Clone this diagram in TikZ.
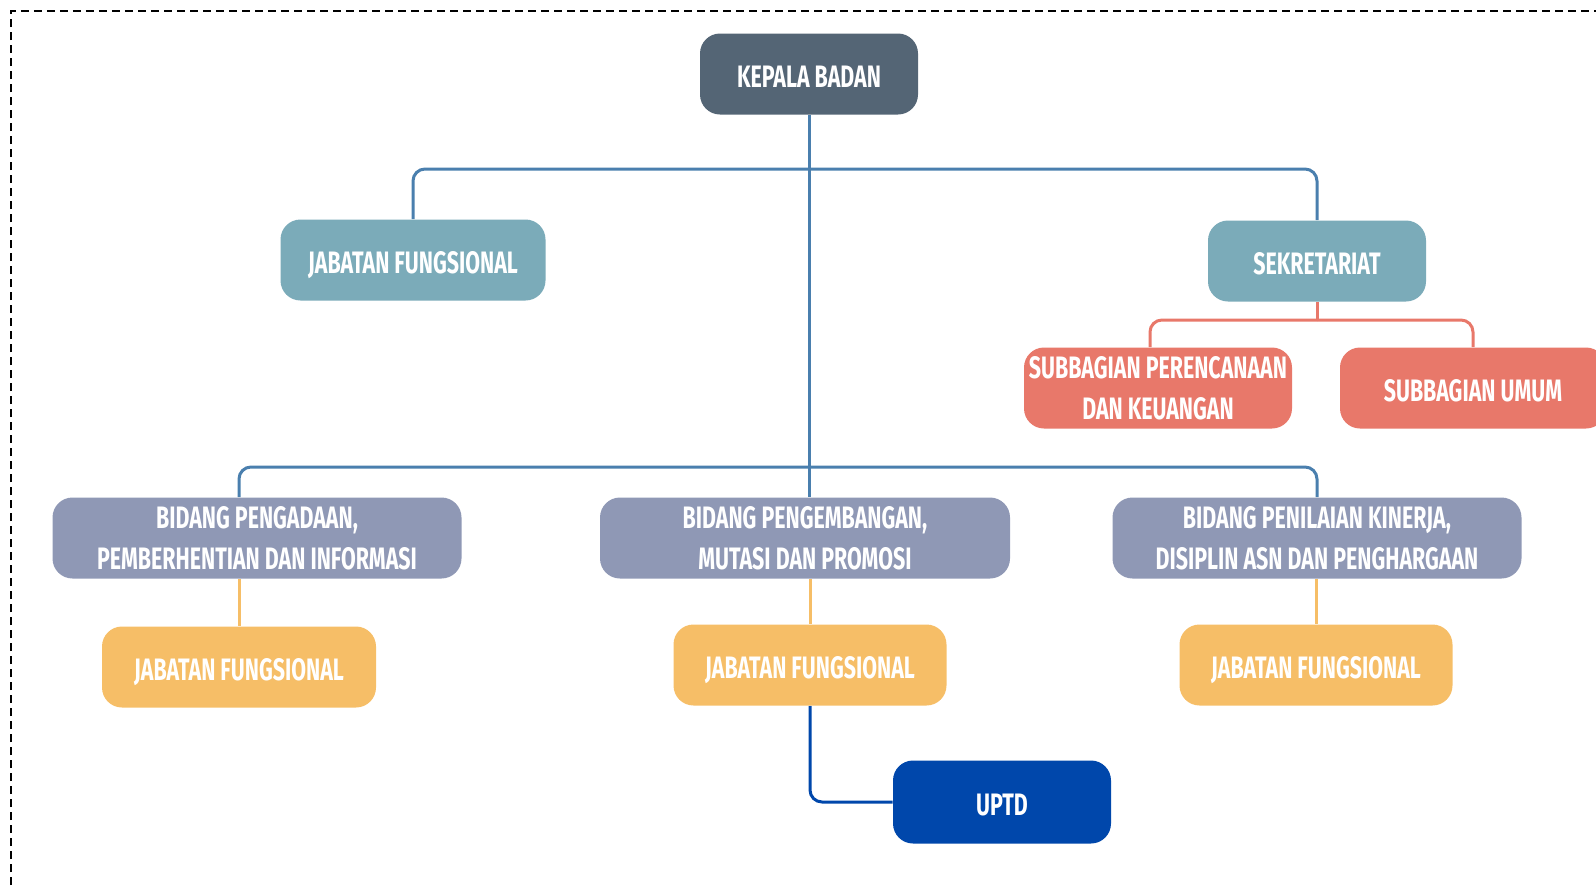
\documentclass[tikz,border=0pt]{standalone}
\usepackage{fontspec}
\newfontfamily\bebas[FakeStretch=0.69]{Fira Sans}
\usetikzlibrary{backgrounds}
\definecolor{cKep}{HTML}{546575}
\definecolor{cTeal}{HTML}{7BABB9}
\definecolor{cSub}{HTML}{E8786A}
\definecolor{cBid}{HTML}{8F98B5}
\definecolor{cJab}{HTML}{F6BE67}
\definecolor{cUp}{HTML}{0047AB}
\definecolor{cLine}{HTML}{4A7FAE}
\tikzset{
  box/.style={rounded corners=10pt, text=white, align=center, inner sep=0pt,
    minimum height=40.5pt, font=\bebas\bfseries\fontsize{15.5}{20.5}\selectfont},
  one/.style={text height=13.5pt, text depth=0pt},
  conn/.style={line width=1.5pt, rounded corners=6pt},
}
\begin{document}
\begin{tikzpicture}[x=0.5pt,y=-0.5pt]
\useasboundingbox (0,0) rectangle (1596,885);
\draw[line width=1pt, dash pattern=on 4pt off 2.5pt] (11,885) -- (11,11) -- (1596,11);
% nodes
\node[box, one, fill=cKep, minimum width=109pt] (kep) at (809,74) {KEPALA BADAN};
\node[box, one, fill=cTeal, minimum width=132.5pt] (jf) at (413,260) {JABATAN FUNGSIONAL};
\node[box, one, fill=cTeal, minimum width=109pt] (sek) at (1317,261) {SEKRETARIAT};
\node[box, fill=cSub, minimum width=134pt] (sp) at (1158,388) {SUBBAGIAN PERENCANAAN\\DAN KEUANGAN};
\node[box, one, fill=cSub, minimum width=133pt] (su) at (1473,388) {SUBBAGIAN UMUM};
\node[box, fill=cBid, minimum width=204.5pt] (bidL) at (257,538) {BIDANG PENGADAAN,\\PEMBERHENTIAN DAN INFORMASI};
\node[box, fill=cBid, minimum width=205pt] (bidM) at (805,538) {BIDANG PENGEMBANGAN,\\MUTASI DAN PROMOSI};
\node[box, fill=cBid, minimum width=204.5pt] (bidR) at (1317,538) {BIDANG PENILAIAN KINERJA,\\DISIPLIN ASN DAN PENGHARGAAN};
\node[box, one, fill=cJab, minimum width=137pt] (jfL) at (239,667) {JABATAN FUNGSIONAL};
\node[box, one, fill=cJab, minimum width=136.5pt] (jfM) at (810,665) {JABATAN FUNGSIONAL};
\node[box, one, fill=cJab, minimum width=136.5pt] (jfR) at (1316,665) {JABATAN FUNGSIONAL};
\node[box, one, fill=cUp, minimum width=109pt, minimum height=41.5pt] (up) at (1002,802) {UPTD};
\coordinate (b1) at (809,169);
\coordinate (b2) at (809,467);
\coordinate (b3) at (1317,320);
\begin{scope}[on background layer]
\draw[conn, cLine] (kep.south) -- (kep.south |- bidM.north);
\draw[conn, cLine] (b1) -| (jf.north);
\draw[conn, cLine] (b1) -| (sek.north);
\draw[conn, cLine] (b2) -| (jfL |- bidL.north);
\draw[conn, cLine] (b2) -| (bidR.north);
\draw[conn, cSub] (sek.south) -- (b3);
\draw[conn, cSub] (b3) -| ([xshift=-4pt]sp.north);
\draw[conn, cSub] (b3) -| (su.north);
\draw[conn, cJab] (jfL |- bidL.south) -- (jfL.north);
\draw[conn, cJab] (jfM |- bidM.south) -- (jfM.north);
\draw[conn, cJab] (jfR |- bidR.south) -- (jfR.north);
\draw[conn, cUp] (jfM.south) |- (up.west);
\end{scope}
\end{tikzpicture}
\end{document}
